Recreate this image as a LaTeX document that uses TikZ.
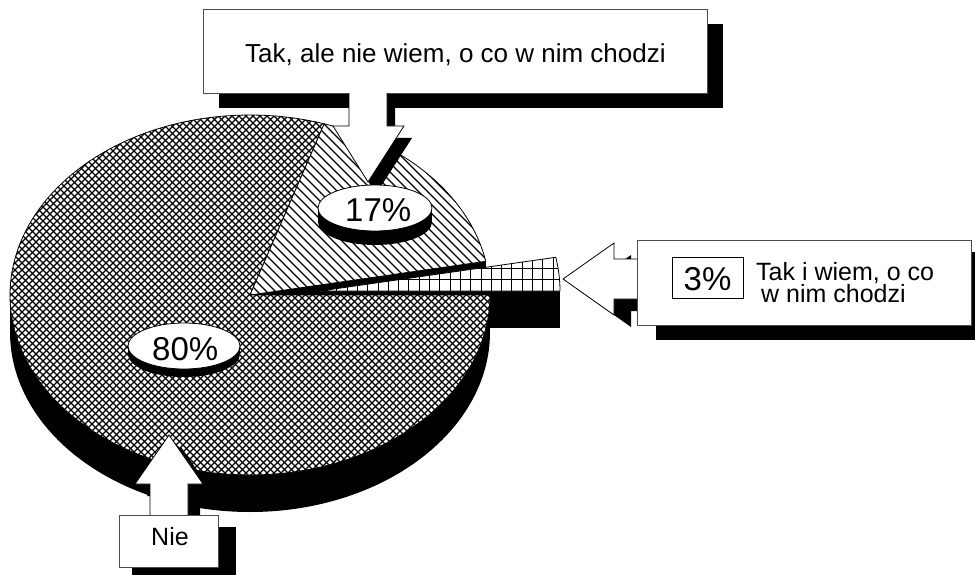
\documentclass[tikz,border=0pt]{standalone}
\usepackage{fontspec}
\setmainfont{Liberation Sans}
\begin{document}
\begin{tikzpicture}[x=1pt,y=-1pt,line join=miter,
  outline/.style={draw=black,line width=0.8pt},
  boxline/.style={draw=black!70,line width=0.8pt,fill=white},
  blk/.style={fill=black,draw=none},
  hatchline/.style={draw=black,line width=1.3pt},
  diagline/.style={draw=black,line width=1.1pt},
  gridline/.style={draw=black,line width=0.9pt},
  lbl/.style={inner sep=0pt,anchor=base west,font=\fontsize{25}{22}\selectfont},
  toplbl/.style={inner sep=0pt,anchor=base west,font=\fontsize{26}{26}\selectfont},
  pct/.style={inner sep=0pt,anchor=base west,font=\fontsize{33}{33}\selectfont},
]
\useasboundingbox (0,0) rectangle (975,575);
% --- pie extrusion ---
\fill[blk] (250,332) ellipse [x radius=240,y radius=180];
\fill[blk] (10,295) rectangle (490,332);
% cut faces
\fill[blk] (250,295) -- (485.8,261.3) -- (485.8,298.3) -- (250,332) -- cycle;
\fill[blk] (320,291) rectangle (560,328);
% 80% slice
\fill[white] (250,295) -- plot[domain=0:288,samples=150] ({250+240*cos(\x)},{295+180*sin(\x)}) -- cycle;
\begin{scope}
  \clip (250,295) -- plot[domain=0:288,samples=150] ({250+240*cos(\x)},{295+180*sin(\x)}) -- cycle;
  \foreach \c in {-470,-463,...,380} \draw[hatchline] (\c,100) -- ++(400,400);
  \foreach \c in {110,117,...,980} \draw[hatchline] (\c,0) -- ++(-500,500);
\end{scope}
\draw[outline] (250,295) -- plot[domain=0:288,samples=150] ({250+240*cos(\x)},{295+180*sin(\x)}) -- cycle;
% 17% slice
\fill[white] (250,295) -- plot[domain=288:349.2,samples=60] ({250+240*cos(\x)},{295+180*sin(\x)}) -- cycle;
\begin{scope}
  \clip (250,295) -- plot[domain=288:349.2,samples=60] ({250+240*cos(\x)},{295+180*sin(\x)}) -- cycle;
  \foreach \c in {-60,-51,...,390} \draw[diagline] (\c,100) -- ++(250,250);
\end{scope}
\draw[outline] (250,295) -- plot[domain=288:349.2,samples=60] ({250+240*cos(\x)},{295+180*sin(\x)}) -- cycle;
% 3% slice (exploded)
\fill[white] (320,291) -- plot[domain=360:349.2,samples=20] ({320+240*cos(\x)},{291+180*sin(\x)}) -- cycle;
\begin{scope}
  \clip (320,291) -- plot[domain=360:349.2,samples=20] ({320+240*cos(\x)},{291+180*sin(\x)}) -- cycle;
  \foreach \c in {326.5,336.8,...,565} \draw[gridline] (\c,250) -- (\c,295);
  \foreach \c in {257,268,279} \draw[gridline] (315,\c) -- (565,\c);
\end{scope}
\draw[outline] (320,291) -- plot[domain=360:349.2,samples=20] ({320+240*cos(\x)},{291+180*sin(\x)}) -- cycle;
% --- top box ---
\fill[blk] (219,24) rectangle (723,108);
\draw[boxline] (203,9) rectangle (707,93);
\node[toplbl] (ttop) at (245,63) {Tak, ale nie wiem, o co w nim chodzi};
% top arrow
\fill[blk,shift={(8,12)}] (349,93) -- (387,93) -- (387,126) -- (404,126) -- (368,182) -- (333,126) -- (349,126) -- cycle;
\fill[white] (349,93) -- (387,93) -- (387,126) -- (404,126) -- (368,182) -- (333,126) -- (349,126) -- cycle;
\draw[outline] (387,93) -- (387,126) -- (404,126) -- (368,182) -- (333,126) -- (349,126) -- (349,93);
% --- disc 17% ---
\fill[blk] (375,222) ellipse [x radius=57,y radius=23];
\fill[blk] (318,208) rectangle (432,222);
\draw[outline,fill=white] (375,208) ellipse [x radius=57,y radius=23];
\node[pct] (p17) at (345,221) {17\%};
% --- disc 80% ---
\fill[blk] (184,354) ellipse [x radius=56,y radius=23];
\fill[blk] (128,346) rectangle (240,354);
\draw[outline,fill=white] (184,346) ellipse [x radius=56,y radius=23];
\node[pct] (p80) at (152,360) {80\%};
% --- right arrow ---
\fill[blk,shift={(17,12)}] (563,279) -- (614,243) -- (614,259) -- (638,259) -- (638,299) -- (614,299) -- (614,315) -- cycle;
\fill[white] (563,279) -- (614,243) -- (614,259) -- (638,259) -- (638,299) -- (614,299) -- (614,315) -- cycle;
\draw[outline] (638,259) -- (614,259) -- (614,243) -- (563,279) -- (614,315) -- (614,299) -- (638,299);
% --- right box ---
\fill[blk] (656,252) rectangle (990,340);
\draw[boxline] (637,240) rectangle (971,325);
\draw[outline,fill=white] (672,257) rectangle (743,298);
\node[pct,anchor=base] (p3) at (707.5,290) {3\%};
\node[lbl,align=left,anchor=north west] (tr) at (756,262) {Tak i wiem, o co\\\hspace*{5pt}w nim chodzi};
% --- Nie arrow ---
\fill[blk,shift={(12,12)}] (169,435) -- (203,484) -- (188,484) -- (188,515) -- (150,515) -- (150,484) -- (135,484) -- cycle;
\fill[white] (169,435) -- (203,484) -- (188,484) -- (188,515) -- (150,515) -- (150,484) -- (135,484) -- cycle;
\draw[outline] (188,515) -- (188,484) -- (203,484) -- (169,435) -- (135,484) -- (150,484) -- (150,515);
% --- Nie box ---
\fill[blk] (132,527) rectangle (236,580);
\draw[boxline] (119,515) rectangle (218,567);
\node[lbl] (tnie) at (151,545) {Nie};
\end{tikzpicture}
\end{document}
